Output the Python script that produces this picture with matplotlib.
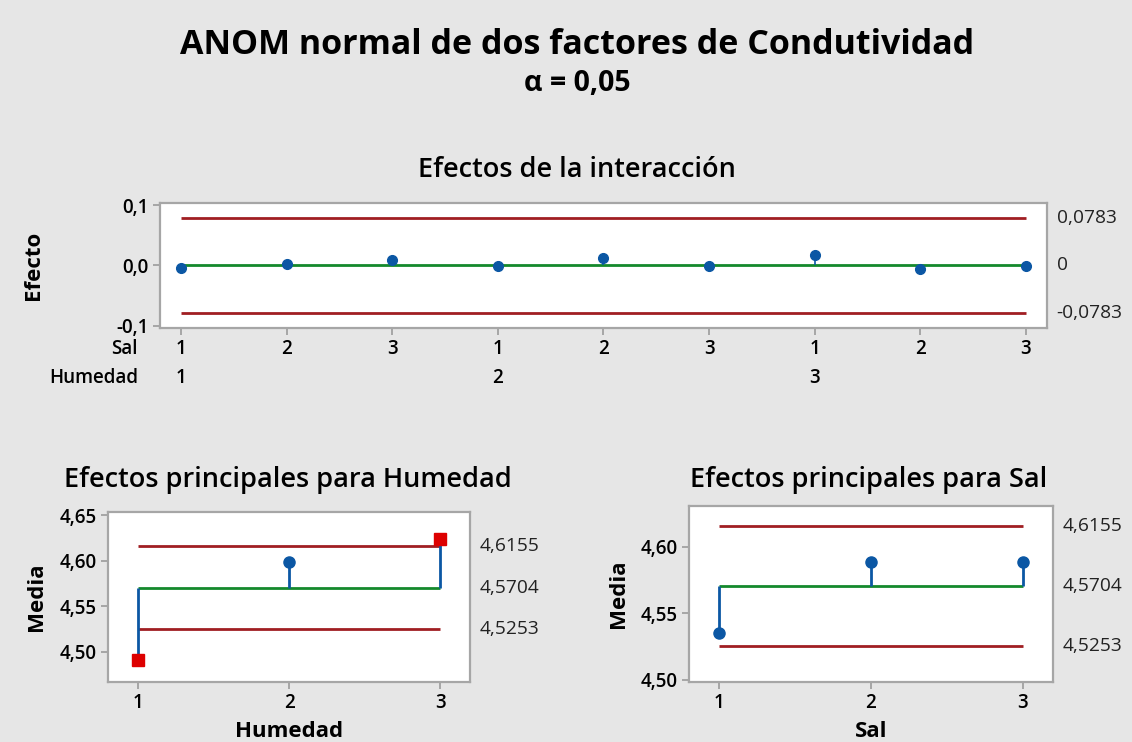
import matplotlib
matplotlib.use("Agg")
import matplotlib.pyplot as plt
from matplotlib.ticker import FuncFormatter

# data
sal_levels = [1, 2, 3, 1, 2, 3, 1, 2, 3]
humedad_levels = [1, 1, 1, 2, 2, 2, 3, 3, 3]
interaction_effects = [-0.005, 0.0028, 0.0089, -0.0011, 0.0128, -0.0011, 0.0167, -0.0056, -0.0011]
interaction_limits = [-0.0783, 0.0, 0.0783]
interaction_limit_labels = ["-0,0783", "0", "0,0783"]

main_levels = [1, 2, 3]
humedad_means = [4.491, 4.598, 4.624]
sal_means = [4.5353, 4.5883, 4.5883]
main_limits = [4.5253, 4.5704, 4.6155]
main_limit_labels = ["4,5253", "4,5704", "4,6155"]

BG = "#e6e6e6"
LIMIT_COLOR = "#a01e22"
CENTER_COLOR = "#14892c"
POINT_COLOR = "#0b57a4"
OUT_COLOR = "#dd0000"
SPINE_COLOR = "#a6a6a6"
FONT = ["Open Sans", "DejaVu Sans"]
TICK_SIZE = 13.5
LABEL_SIZE = 16
TITLE_SIZE = 19.5

plt.rcParams["font.family"] = FONT


def comma(fmt):
    return FuncFormatter(lambda v, _: (fmt % v).replace(".", ","))


def style_axes(ax):
    ax.set_facecolor("white")
    for sp in ax.spines.values():
        sp.set_color(SPINE_COLOR)
        sp.set_linewidth(1.6)
    ax.tick_params(color=SPINE_COLOR, width=1.4, length=5, labelsize=TICK_SIZE, pad=3)
    for lbl in ax.get_xticklabels() + ax.get_yticklabels():
        lbl.set_fontweight("semibold")


def control_lines(ax, x0, x1, limits, labels):
    ax.hlines([limits[0], limits[2]], x0, x1, color=LIMIT_COLOR, linewidth=2)
    ax.hlines(limits[1], x0, x1, color=CENTER_COLOR, linewidth=2)
    for val, txt in zip(limits, labels):
        ax.annotate(txt, xy=(1, val), xycoords=("axes fraction", "data"),
                    xytext=(7, 0), textcoords="offset points",
                    va="center", ha="left", fontsize=13.8, color="#222222")


def main_effect(ax, means, limits, labels):
    control_lines(ax, main_levels[0], main_levels[-1], limits, labels)
    ax.vlines(main_levels, limits[1], means, color=POINT_COLOR, linewidth=2)
    for x, m in zip(main_levels, means):
        if m > limits[2] or m < limits[0]:
            ax.plot(x, m, "s", color=OUT_COLOR, markersize=8, zorder=5)
        else:
            ax.plot(x, m, "o", color=POINT_COLOR, markersize=8, zorder=5)
    ax.set_xlim(0.8, 3.2)
    ax.set_xticks(main_levels)
    ax.yaxis.set_major_formatter(comma("%.2f"))


fig = plt.figure(figsize=(11.32, 7.42), dpi=100, facecolor=BG)

fig.text(0.510, 0.939, "ANOM normal de dos factores de Condutividad",
         ha="center", va="center", fontsize=24.5, fontweight="bold")
fig.text(0.510, 0.888, "α = 0,05", ha="center", va="center", fontsize=20.5, fontweight="bold")

# interaction panel
ax_int = fig.add_axes([0.1413, 0.558, 0.7836, 0.1688])
xs = list(range(1, len(interaction_effects) + 1))
control_lines(ax_int, xs[0], xs[-1], interaction_limits, interaction_limit_labels)
ax_int.vlines(xs, 0, interaction_effects, color=POINT_COLOR, linewidth=1.2)
ax_int.plot(xs, interaction_effects, "o", color=POINT_COLOR, markersize=7, zorder=5)
ax_int.set_xlim(0.8, 9.2)
ax_int.set_ylim(-0.104, 0.1045)
ax_int.set_yticks([-0.1, 0.0, 0.1])
ax_int.yaxis.set_major_formatter(comma("%.1f"))
ax_int.set_xticks(xs)
ax_int.set_xticklabels([str(s) for s in sal_levels])
ax_int.set_ylabel("Efecto", fontsize=LABEL_SIZE, fontweight="bold")
ax_int.yaxis.set_label_coords(-0.131, 0.5)
style_axes(ax_int)
prev = None
for x, h in zip(xs, humedad_levels):
    if h != prev:
        ax_int.text(x, -0.40, str(h), transform=ax_int.get_xaxis_transform(),
                    ha="center", va="center", fontsize=TICK_SIZE, fontweight="semibold")
        prev = h
ax_int.text(-0.025, -0.17, "Sal", transform=ax_int.transAxes, ha="right", va="center",
            fontsize=TICK_SIZE, fontweight="semibold")
ax_int.text(-0.025, -0.40, "Humedad", transform=ax_int.transAxes, ha="right", va="center",
            fontsize=TICK_SIZE, fontweight="semibold")
fig.text(0.510, 1 - 170 / 742, "Efectos de la interacción", ha="center", va="center",
         fontsize=TITLE_SIZE, fontweight="semibold")

# main effects: Humedad
ax_h = fig.add_axes([0.0952, 0.0813, 0.3203, 0.2283])
main_effect(ax_h, humedad_means, main_limits, main_limit_labels)
ax_h.set_ylim(4.467, 4.653)
ax_h.set_yticks([4.50, 4.55, 4.60, 4.65])
ax_h.set_xlabel("Humedad", fontsize=LABEL_SIZE, fontweight="bold", labelpad=6)
ax_h.set_ylabel("Media", fontsize=LABEL_SIZE, fontweight="bold")
ax_h.yaxis.set_label_coords(-0.168, 0.5)
style_axes(ax_h)
fig.text(0.254, 1 - 480 / 742, "Efectos principales para Humedad", ha="center", va="center",
         fontsize=TITLE_SIZE, fontweight="semibold")

# main effects: Sal
ax_s = fig.add_axes([0.6086, 0.0813, 0.3216, 0.2368])
main_effect(ax_s, sal_means, main_limits, main_limit_labels)
ax_s.set_ylim(4.4987, 4.6305)
ax_s.set_yticks([4.50, 4.55, 4.60])
ax_s.set_xlabel("Sal", fontsize=LABEL_SIZE, fontweight="bold", labelpad=6)
ax_s.set_ylabel("Media", fontsize=LABEL_SIZE, fontweight="bold")
ax_s.yaxis.set_label_coords(-0.165, 0.5)
style_axes(ax_s)
fig.text(0.767, 1 - 480 / 742, "Efectos principales para Sal", ha="center", va="center",
         fontsize=TITLE_SIZE, fontweight="semibold")

fig.savefig("out.png", dpi=100, facecolor=BG)
